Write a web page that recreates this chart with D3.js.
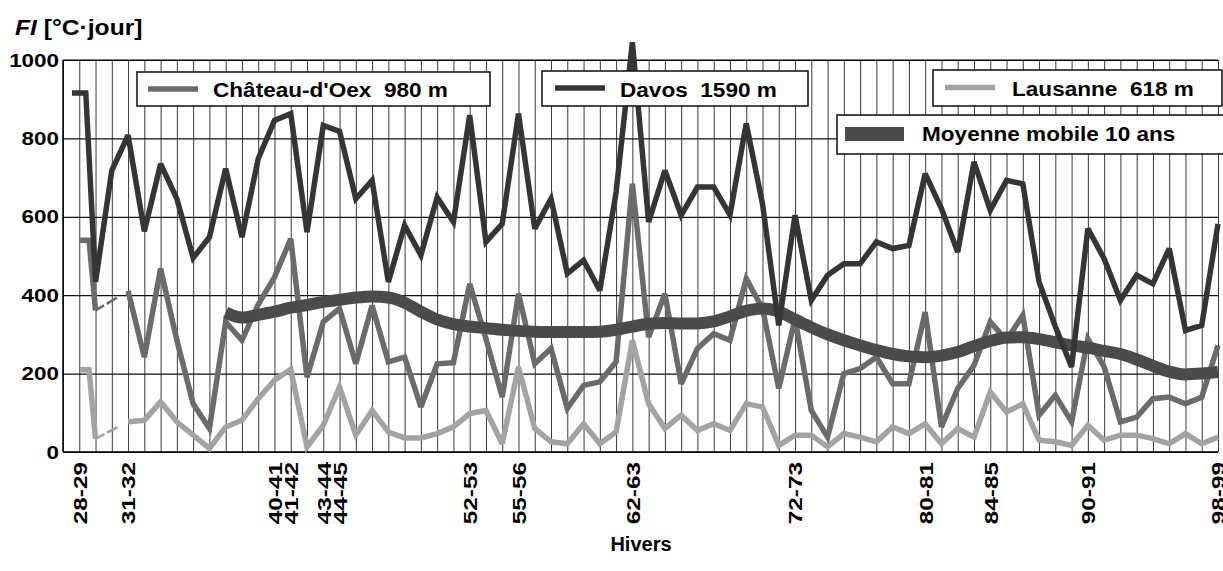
<!DOCTYPE html>
<html><head><meta charset="utf-8">
<script src="https://cdn.jsdelivr.net/npm/d3@7"></script>
<style>
html,body{margin:0;padding:0;background:#fff;}
svg{display:block;font-family:"Liberation Sans",Arial,Helvetica,sans-serif;font-weight:bold;}
</style></head><body>
<svg id="chart" width="1223" height="571"></svg>
<script>
// ---- DATA ----
const categories = ["28-29","29-30","30-31","31-32","32-33","33-34","34-35","35-36","36-37","37-38",
  "38-39","39-40","40-41","41-42","42-43","43-44","44-45","45-46","46-47","47-48",
  "48-49","49-50","50-51","51-52","52-53","53-54","54-55","55-56","56-57","57-58",
  "58-59","59-60","60-61","61-62","62-63","63-64","64-65","65-66","66-67","67-68",
  "68-69","69-70","70-71","71-72","72-73","73-74","74-75","75-76","76-77","77-78",
  "78-79","79-80","80-81","81-82","82-83","83-84","84-85","85-86","86-87","87-88",
  "88-89","89-90","90-91","91-92","92-93","93-94","94-95","95-96","96-97","97-98","98-99"];
const tickLabels = ["28-29","31-32","40-41","41-42","43-44","44-45","52-53","55-56","62-63","72-73","80-81","84-85","90-91","98-99"];
const yTicks = [0,200,400,600,800,1000];
const davos = [916,434,718,808,563,735,646,495,548,723,
  548,748,846,863,561,833,818,646,693,434,
  578,502,650,587,859,536,582,863,570,646,
  455,489,412,663,1045,587,718,604,676,676,
  605,838,633,323,604,387,451,480,480,536,
  519,527,710,621,510,740,617,693,684,434,
  320,217,570,493,387,451,429,519,310,323,582];
const chateau = [540,361,null,411,242,468,285,123,60,332,
  285,376,446,544,191,332,366,225,374,230,
  242,115,225,228,429,289,140,404,225,264,
  111,170,179,230,684,293,404,174,264,302,
  285,442,366,162,340,106,38,200,213,242,
  174,174,357,64,162,221,332,285,349,94,
  145,77,289,217,77,89,136,140,123,140,272];
const lausanne = [210,34,null,77,81,128,77,43,9,64,
  81,136,183,211,13,68,166,43,106,51,
  36,36,47,64,98,106,21,217,60,26,
  21,72,21,51,285,123,60,94,55,72,
  55,123,115,17,43,43,13,47,38,26,
  64,47,72,21,60,38,153,102,123,30,
  26,17,68,30,43,43,34,21,47,21,38];
const movingAvg = [null,null,null,null,null,null,null,null,null,356,
  343,350,358,368,375,383,388,394,397,394,
  381,358,338,326,320,316,312,309,307,306,
  306,306,307,312,320,327,329,328,328,333,
  346,360,366,358,338,318,300,285,272,260,
  250,244,242,246,255,270,283,292,293,288,
  280,272,266,258,250,236,220,205,198,200,204];
const seriesNames = ["Château-d'Oex  980 m","Davos  1590 m","Lausanne  618 m","Moyenne mobile 10 ans"];

// ---- LAYOUT ----
const L = 63, R = 1218, T = 60, B = 452;
const svg = d3.select("#chart");
svg.append("rect").attr("width",1223).attr("height",571).attr("fill","#fff");

const x = d3.scaleLinear().domain([-1, categories.length - 1]).range([L, R]);
const y = d3.scaleLinear().domain([0, 1000]).range([B, T]);
const step = x(1) - x(0);

const colDavos = "#353535", colChat = "#6b6b6b", colLaus = "#a3a3a3", colMA = "#4b4b4b";

// vertical grid
svg.append("g").attr("transform",`translate(0,${B})`)
  .call(d3.axisBottom(x).tickValues(d3.range(-1, categories.length)).tickSize(-(B - T)).tickFormat(""))
  .call(g => g.select(".domain").remove())
  .call(g => g.selectAll("line").attr("stroke","#3a3a3a").attr("stroke-width",1));

// horizontal grid + y labels
const yAxis = svg.append("g").attr("transform",`translate(${L},0)`)
  .call(d3.axisLeft(y).tickValues(yTicks).tickSize(-(R - L)).tickPadding(5).tickFormat(d3.format("d")))
  .call(g => g.select(".domain").remove());
yAxis.selectAll("line").attr("stroke","#111").attr("stroke-width",1.2);
yAxis.selectAll("text").attr("fill","#000").attr("font-size","19px").attr("font-weight","bold")
  .attr("font-family","Liberation Sans, Arial, sans-serif")
  .attr("x",null).attr("transform","translate(-4,0) scale(1.18,1)").attr("text-anchor","end");

// axis lines
svg.append("line").attr("x1",L).attr("x2",L).attr("y1",T).attr("y2",B).attr("stroke","#000").attr("stroke-width",1.5);
svg.append("line").attr("x1",L).attr("x2",R).attr("y1",B).attr("y2",B).attr("stroke","#000").attr("stroke-width",1.5);
svg.append("line").attr("x1",L).attr("x2",R).attr("y1",T).attr("y2",T).attr("stroke","#000").attr("stroke-width",1.2);

// x labels
const xLabIdx = tickLabels.map(t => categories.indexOf(t));
const xAxis = svg.append("g").attr("transform",`translate(0,${B})`)
  .call(d3.axisBottom(x).tickValues(xLabIdx).tickSize(0).tickFormat(i => categories[i]))
  .call(g => g.select(".domain").remove());
xAxis.selectAll("text").attr("fill","#000").attr("font-size","19px").attr("font-weight","bold")
  .attr("font-family","Liberation Sans, Arial, sans-serif")
  .attr("text-anchor","end").attr("y",0).attr("x",-10/1.28).attr("dy","0.36em")
  .attr("transform","rotate(-90) scale(1.28,1)");

// series
function drawSeries(values, color, width, lead) {
  const pts = values.map((v, i) => ({i, v}));
  // split into runs
  const runs = []; let cur = [];
  pts.forEach(p => { if (p.v == null) { if (cur.length) runs.push(cur); cur = []; } else cur.push(p); });
  if (cur.length) runs.push(cur);
  const line = d3.line().x(d => x(d.i)).y(d => y(d.v));
  runs.forEach((run, k) => {
    let r = run.slice();
    if (k === 0 && lead) {
      const f = r[0];
      r = [{i: f.i + lead[0], v: f.v}, {i: f.i + lead[1], v: f.v}].concat(r.slice(1));
    }
    svg.append("path").datum(r).attr("d", line).attr("fill","none")
      .attr("stroke", color).attr("stroke-width", width).attr("stroke-linejoin","miter").attr("stroke-miterlimit",3);
  });
  for (let k = 0; k < runs.length - 1; k++) {
    const a = runs[k][runs[k].length - 1], b = runs[k + 1][0];
    svg.append("path").datum([a, b]).attr("d", line).attr("fill","none")
      .attr("stroke", color).attr("stroke-width", 2.6).attr("stroke-dasharray","10,3,12,100");
  }
}
drawSeries(lausanne, colLaus, 5.5, [0.05, 0.6]);
drawSeries(chateau, colChat, 5.5, [0.05, 0.6]);
svg.append("path").datum(movingAvg.map((v, i) => ({i, v})))
  .attr("d", d3.line().defined(d => d.v != null).x(d => x(d.i)).y(d => y(d.v)).curve(d3.curveMonotoneX))
  .attr("fill","none").attr("stroke", colMA).attr("stroke-width", 12);
drawSeries(davos, colDavos, 5.5, [-0.45, 0.4]);

// legends
function legend(bx, by, bw, bh, sample, label, tx, ty) {
  const g = svg.append("g");
  g.append("rect").attr("x",bx).attr("y",by).attr("width",bw).attr("height",bh)
    .attr("fill","#fff").attr("stroke","#1a1a1a").attr("stroke-width",1.6);
  sample(g);
  g.append("text").attr("transform",`translate(${tx},${ty}) scale(1.075,1)`)
    .attr("font-size","21px").attr("fill","#000").style("white-space","pre").text(label);
}
legend(137, 72, 353, 34, g => g.append("line").attr("x1",148).attr("x2",198).attr("y1",89).attr("y2",89).attr("stroke",colChat).attr("stroke-width",5.5), seriesNames[0], 213, 97);
legend(542, 71, 266, 35, g => g.append("line").attr("x1",555).attr("x2",605).attr("y1",88).attr("y2",88).attr("stroke",colDavos).attr("stroke-width",5.5), seriesNames[1], 620, 97);
legend(933, 70, 289, 36, g => g.append("line").attr("x1",945).attr("x2",995).attr("y1",87.5).attr("y2",87.5).attr("stroke",colLaus).attr("stroke-width",5.5), seriesNames[2], 1012, 96);
legend(837, 115, 420, 39, g => g.append("rect").attr("x",845).attr("y",127).attr("width",59).attr("height",14).attr("fill",colMA), seriesNames[3], 922, 141);

// title & axis title
const title = svg.append("text").attr("transform","translate(15,35) scale(1.12,1)").attr("font-size","22px").attr("fill","#000");
title.append("tspan").attr("font-style","italic").text("FI");
title.append("tspan").text(" [°C·jour]");
svg.append("text").attr("x",641).attr("y",551).attr("text-anchor","middle").attr("font-size","20px").attr("fill","#000").text("Hivers");
</script>
</body></html>
